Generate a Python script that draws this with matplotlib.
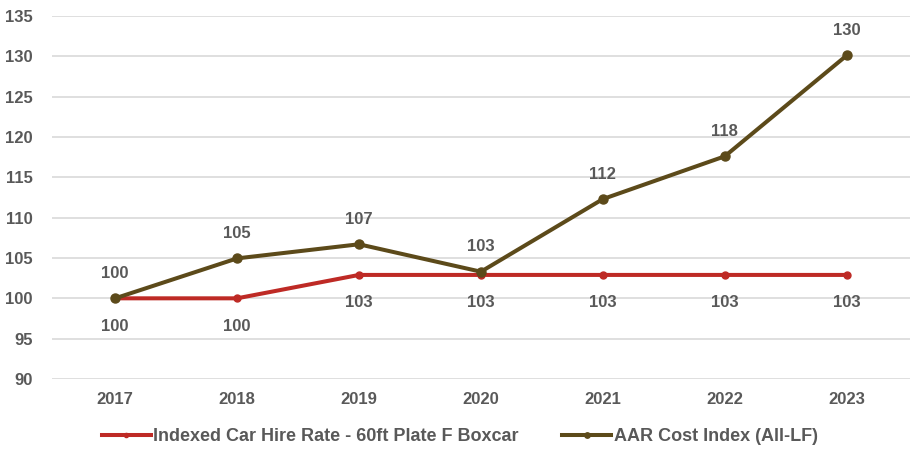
import matplotlib.pyplot as plt

plt.rcParams['font.family'] = ['Liberation Sans', 'DejaVu Sans']

years = ['2017', '2018', '2019', '2020', '2021', '2022', '2023']
car_hire = [100, 100, 102.9, 102.9, 102.9, 102.9, 102.9]
aar_cost = [100, 104.95, 106.7, 103.3, 112.3, 117.6, 130.1]

red = '#BE2A25'
brown = '#5C4A1A'
grey = '#595959'

fig = plt.figure(figsize=(9.16, 4.55), dpi=100)
ax = fig.add_axes([0.057, 0.167, 0.936, 0.798])

x = list(range(len(years)))
ax.plot(x, car_hire, color=red, lw=2.9, marker='o', ms=5,
        label='Indexed Car Hire Rate - 60ft Plate F Boxcar', zorder=3)
ax.plot(x, aar_cost, color=brown, lw=2.9, marker='o', ms=6.5,
        label='AAR Cost Index (All-LF)', zorder=4)

# value labels: brown series above, red series below
for i, v in enumerate(aar_cost):
    ax.annotate(f'{v:.0f}', (i, v), xytext=(0, 18), textcoords='offset points',
                ha='center', va='center', fontsize=12, fontweight='bold', color=grey)
for i, v in enumerate(car_hire):
    ax.annotate(f'{v:.0f}', (i, v), xytext=(0, -20), textcoords='offset points',
                ha='center', va='center', fontsize=12, fontweight='bold', color=grey)

ax.set_xlim(-0.516, len(years) - 0.484)
ax.set_ylim(90, 135)
ax.set_yticks(range(90, 136, 5))
ax.set_xticks(x)
ax.set_xticklabels(years)
ax.grid(axis='y', color='#D9D9D9', lw=1.2)
ax.set_axisbelow(True)
for s in ax.spines.values():
    s.set_visible(False)
ax.tick_params(length=0, labelsize=12, labelcolor=grey, pad=9)
ax.tick_params(axis='y', pad=14)
for lbl in ax.get_xticklabels() + ax.get_yticklabels():
    lbl.set_fontweight('bold')

leg = fig.legend(loc='center', bbox_to_anchor=(0.502, 0.04), ncol=2, frameon=False,
                 handlelength=2.7, handletextpad=0.15, columnspacing=2.4, fontsize=13,
                 markerscale=0.6)
for t in leg.get_texts():
    t.set_color(grey)
    t.set_fontweight('bold')

fig.savefig('out.png', dpi=100)
